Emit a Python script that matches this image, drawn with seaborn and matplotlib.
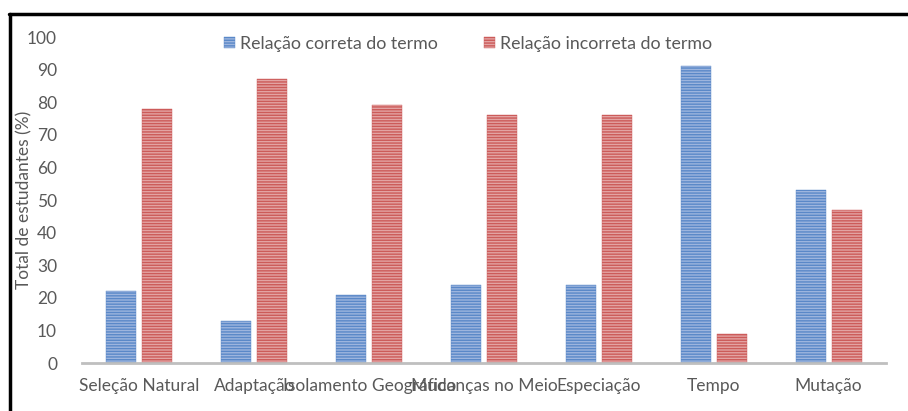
import matplotlib
matplotlib.use("Agg")
import matplotlib.pyplot as plt
import seaborn as sns
import pandas as pd
from matplotlib.lines import Line2D

categories = ["Seleção Natural", "Adaptação", "Isolamento Geográfico",
              "Mudanças no Meio", "Especiação", "Tempo", "Mutação"]
correta = [22, 13, 21, 24, 24, 91, 53]
incorreta = [78, 87, 79, 76, 76, 9, 47]
series_names = ["Relação correta do termo", "Relação incorreta do termo"]
yticks = [0, 10, 20, 30, 40, 50, 60, 70, 80, 90, 100]

df = pd.DataFrame({
    "cat": categories * 2,
    "val": correta + incorreta,
    "serie": [series_names[0]] * len(categories) + [series_names[1]] * len(categories),
})

sns.set_theme(style="white")
plt.rcParams["font.family"] = ["Lato", "DejaVu Sans"]
plt.rcParams["hatch.linewidth"] = 1.0

face = {series_names[0]: "#9DB5DE", series_names[1]: "#E3A3A3"}
line = {series_names[0]: "#5A88C8", series_names[1]: "#CC5B59"}

fig = plt.figure(figsize=(9.08, 4.11), dpi=100)
ax = fig.add_axes([82 / 908, 1 - 363 / 411, (886 - 82) / 908, (363 - 37) / 411])

sns.barplot(data=df, x="cat", y="val", hue="serie", order=categories,
            hue_order=series_names, palette=face, width=0.626, gap=0.167,
            ax=ax, legend=False, saturation=1)

n = len(categories)
for i, p in enumerate(ax.patches[:2 * n]):
    s = series_names[0] if i < n else series_names[1]
    p.set_hatch("------")
    p.set_edgecolor(line[s])
    p.set_linewidth(0.3)

ax.set_ylim(0, 100)
ax.set_yticks(yticks)
ax.set_xlim(-0.5, n - 0.5)
ax.set_xlabel("")
ax.set_ylabel("Total de estudantes (%)", fontsize=12.5, color="#595959")
ax.yaxis.set_label_coords((32 - 82) / 804, 0.5)
ax.tick_params(axis="y", labelsize=12.5, colors="#595959", length=0, pad=18)
ax.tick_params(axis="x", labelsize=12.5, colors="#595959", length=0, pad=11)
for sp in ["top", "right", "left"]:
    ax.spines[sp].set_visible(False)
ax.spines["bottom"].set_color("#BFBFBF")
ax.spines["bottom"].set_linewidth(2)

handles = [plt.Rectangle((0, 0), 1, 1, facecolor=face[s], edgecolor=line[s],
                         hatch="------", linewidth=0.3) for s in series_names]
fig.legend(handles, series_names, loc="center", bbox_to_anchor=(468 / 908, 1 - 44 / 411),
           ncol=2, frameon=False, fontsize=12.8, labelcolor="#595959",
           handlelength=0.6, handleheight=0.6, handletextpad=0.3, columnspacing=2.6)

fig.add_artist(Line2D([9 / 908, 1], [1 - 14 / 411] * 2, color="black", lw=2.5,
                      transform=fig.transFigure))
fig.add_artist(Line2D([10 / 908] * 2, [0, 1 - 14 / 411], color="black", lw=2.5,
                      transform=fig.transFigure))

fig.savefig("out.png", dpi=100)
